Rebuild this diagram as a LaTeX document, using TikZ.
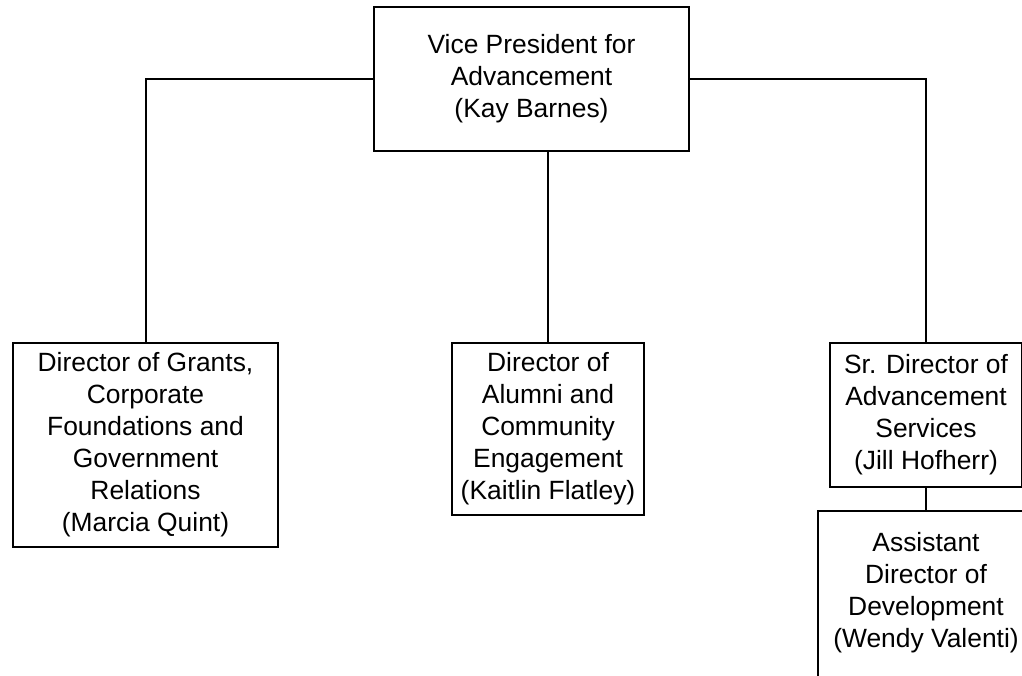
\documentclass[tikz,border=0pt]{standalone}
\usepackage{fontspec}
\setmainfont{Liberation Sans}
\usepackage{tikz}

\tikzset{
  post/.style={draw, line width=2pt, align=center, inner sep=0pt,
    font=\fontsize{26.4}{32}\selectfont},
  link/.style={line width=2pt}
}

\begin{document}
\begin{tikzpicture}[x=1pt,y=-1pt]
\useasboundingbox (0,0) rectangle (1022,675);
\clip (0,0) rectangle (1022,675);

\node[post, minimum width=315pt, minimum height=144pt] (vp) at (531.5,79) {Vice President for\\Advancement\\(Kay Barnes)};
\node[post, minimum width=265pt, minimum height=204pt] (grants) at (145.5,445) {Director of Grants,\\Corporate\\Foundations and\\Government\\Relations\\(Marcia Quint)};
\node[post, minimum width=192pt, minimum height=172pt] (alumni) at (548,429) {Director of\\Alumni and\\Community\\Engagement\\(Kaitlin Flatley)};
\node[post, minimum width=192pt, minimum height=144pt] (srdir) at (926,415) {Sr. Director of\\Advancement\\Services\\(Jill Hofherr)};
\node[post, minimum width=216pt, minimum height=170pt, text depth=12pt] (asstdir) at (926,596) {Assistant\\Director of\\Development\\(Wendy Valenti)};

\coordinate (vpmid) at (548,151);

\foreach \from/\to in {vp/grants, vp/srdir}
	\draw[link] (\from) -| (\to);
\foreach \from/\to in {vpmid/alumni, srdir/asstdir}
	\draw[link] (\from) -- (\to);

\end{tikzpicture}
\end{document}
